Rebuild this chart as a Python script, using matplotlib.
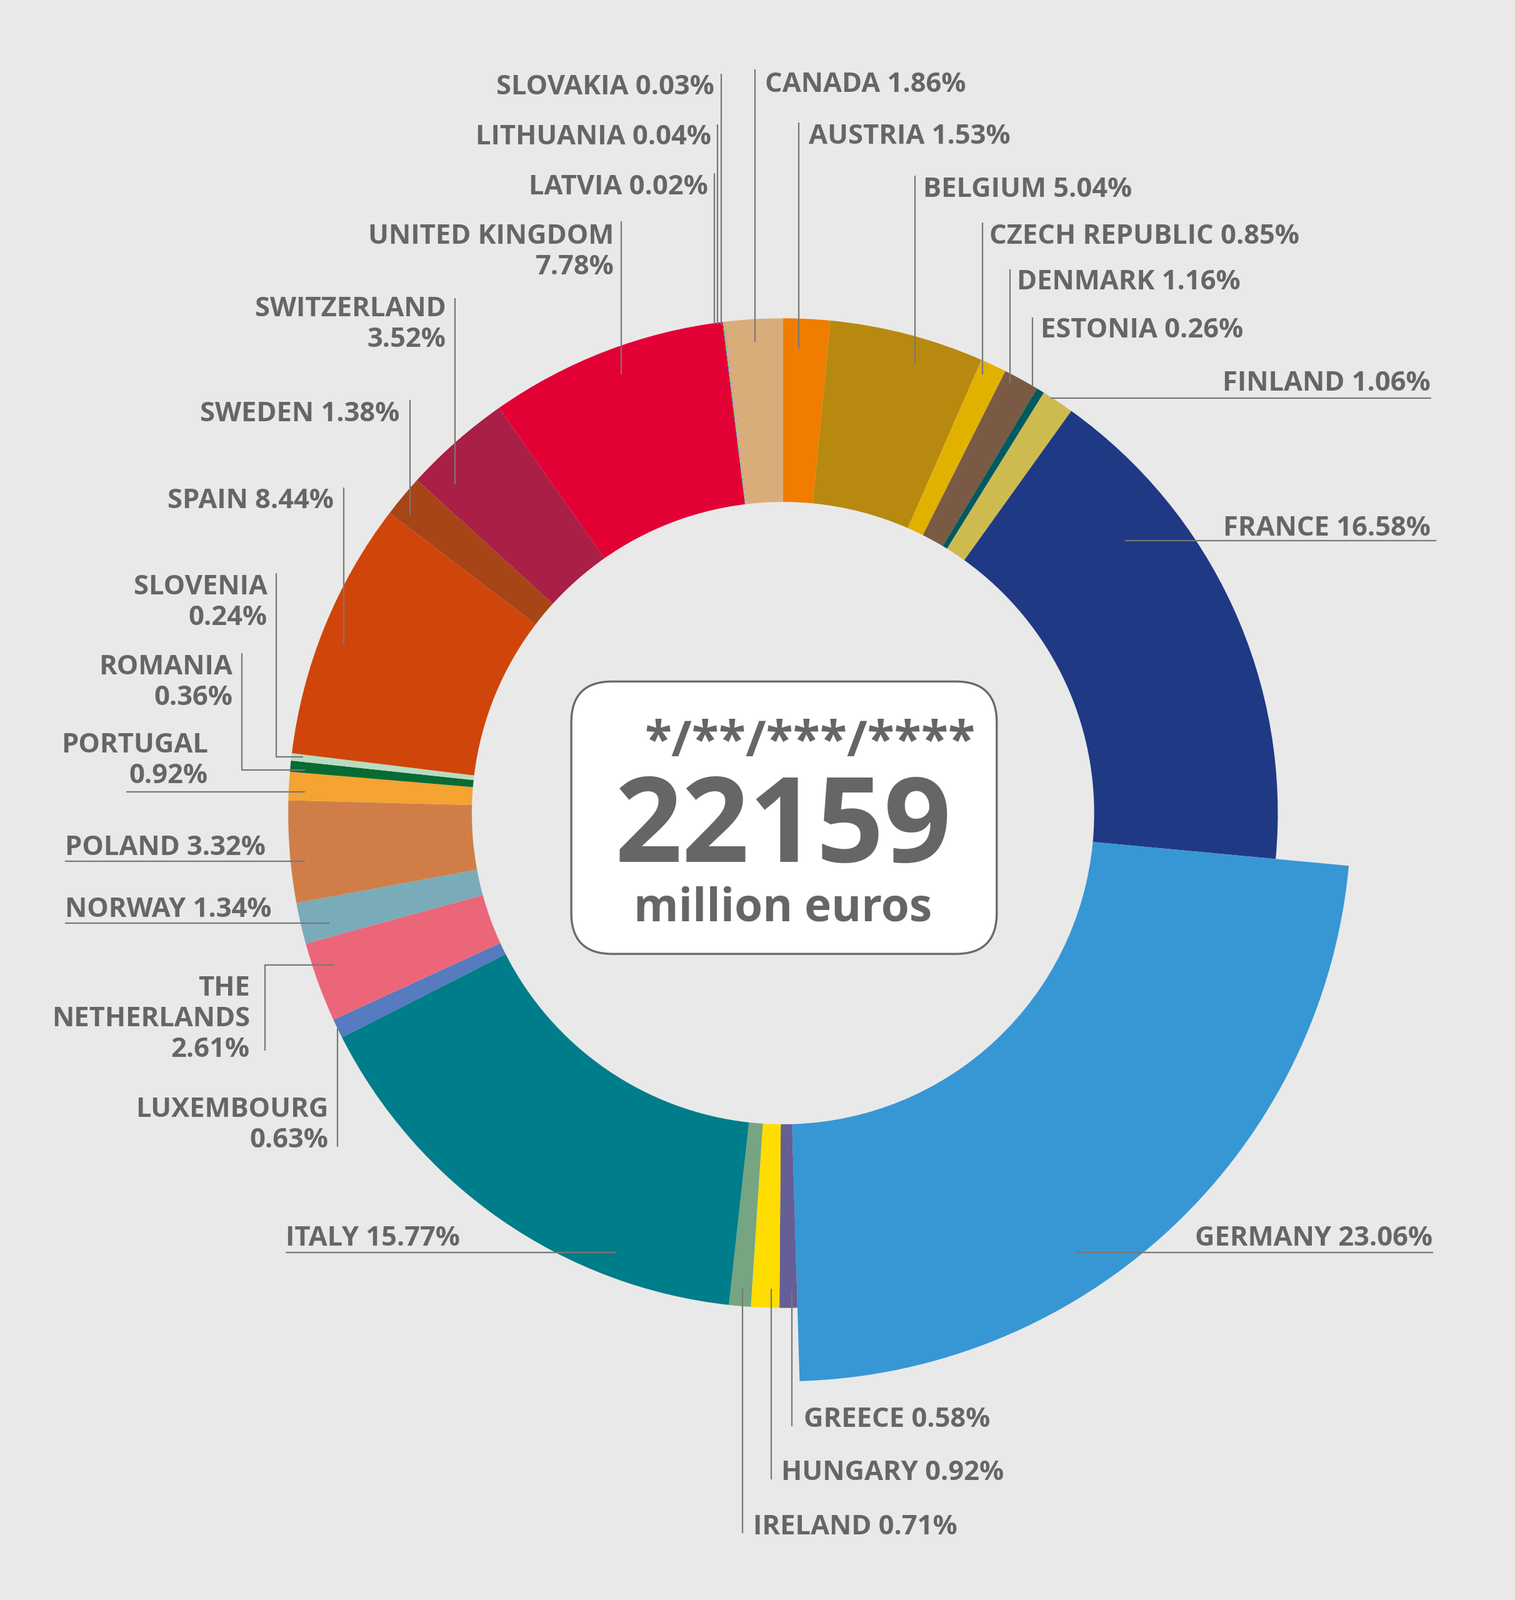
import matplotlib.pyplot as plt
from matplotlib.patches import FancyBboxPatch

# shares in drawing order, clockwise from 12 o'clock
countries = ["AUSTRIA", "BELGIUM", "CZECH REPUBLIC", "DENMARK", "ESTONIA", "FINLAND",
             "FRANCE", "GERMANY", "GREECE", "HUNGARY", "IRELAND", "ITALY", "LUXEMBOURG",
             "THE NETHERLANDS", "NORWAY", "POLAND", "PORTUGAL", "ROMANIA", "SLOVENIA",
             "SPAIN", "SWEDEN", "SWITZERLAND", "UNITED KINGDOM", "LATVIA", "LITHUANIA",
             "SLOVAKIA", "CANADA"]
shares = [1.53, 5.04, 0.85, 1.16, 0.26, 1.06, 16.58, 23.06, 0.58, 0.92, 0.71, 15.77, 0.63,
          2.61, 1.34, 3.32, 0.92, 0.36, 0.24, 8.44, 1.38, 3.52, 7.78, 0.02, 0.04, 0.03, 1.86]
colors = ["#f07d00", "#b8890f", "#e2b100", "#7a5a44", "#005a5f", "#cdbb50",
          "#1f3985", "#3797d4", "#665e96", "#ffdd00", "#76a582", "#007d8a", "#567bbe",
          "#ec667a", "#7aabb8", "#d07e48", "#f5a331", "#086b33", "#b9dcc0",
          "#d0450a", "#a84517", "#a91f46", "#e30034", "#3a7fc0", "#b5c74a",
          "#d486b0", "#d9ad79"]
stars = "*/**/***/****"
total = "22159"
unit = "million euros"

BG = "#e9e9e9"
TXT = "#666666"
LINE = "#787878"
S = 2424 / 1485          # layout below measured on a 1485 px wide sketch

# label layout: x, y of first line centre, alignment, line mode, leader polyline
layout = {
    "SLOVAKIA": (700, 83, "right", 1, [(707, 72), (707, 318)]),
    "LITHUANIA": (697, 132, "right", 1, [(703, 122), (703, 318)]),
    "LATVIA": (694, 181, "right", 1, [(700, 170), (700, 318)]),
    "UNITED KINGDOM": (602, 229, "right", 2, [(609, 217), (609, 367)]),
    "CANADA": (750, 80, "left", 1, [(740, 68), (740, 335)]),
    "AUSTRIA": (793, 131, "left", 1, [(783, 120), (783, 342)]),
    "BELGIUM": (905, 183, "left", 1, [(897, 172), (897, 357)]),
    "CZECH REPUBLIC": (970, 229, "left", 1, [(963, 218), (963, 367)]),
    "DENMARK": (997, 274, "left", 1, [(990, 264), (990, 376)]),
    "ESTONIA": (1020, 321, "left", 1, [(1012, 311), (1012, 378)]),
    "FINLAND": (1402, 373, "right", 1, [(1030, 390), (1403, 390)]),
    "FRANCE": (1402, 515, "right", 1, [(1103, 530), (1408, 530)]),
    "GERMANY": (1404, 1211, "right", 1, [(1055, 1228), (1405, 1228)]),
    "GREECE": (788, 1389, "left", 1, [(776, 1265), (776, 1398)]),
    "HUNGARY": (766, 1441, "left", 1, [(756, 1263), (756, 1450)]),
    "IRELAND": (738, 1494, "left", 1, [(728, 1263), (728, 1503)]),
    "ITALY": (280, 1211, "left", 1, [(280, 1228), (604, 1228)]),
    "LUXEMBOURG": (322, 1085, "right", 2, [(331, 1008), (331, 1124)]),
    "THE NETHERLANDS": (245, 966, "right", 3, [(328, 946), (260, 946), (260, 1030)]),
    "NORWAY": (64, 889, "left", 1, [(64, 905), (323, 905)]),
    "POLAND": (64, 828, "left", 1, [(64, 844), (299, 844)]),
    "PORTUGAL": (204, 728, "right", 2, [(124, 776), (299, 776)]),
    "ROMANIA": (228, 651, "right", 2, [(237, 640), (237, 755), (299, 755)]),
    "SLOVENIA": (262, 573, "right", 2, [(271, 562), (271, 742), (297, 742)]),
    "SPAIN": (327, 488, "right", 1, [(337, 478), (337, 632)]),
    "SWEDEN": (392, 403, "right", 1, [(402, 392), (402, 505)]),
    "SWITZERLAND": (437, 300, "right", 2, [(446, 292), (446, 475)]),
}

fig = plt.figure(figsize=(24.24, 25.6), dpi=100, facecolor=BG)
ax = fig.add_axes([0, 0, 1, 1])
ax.set_facecolor(BG)

cx, cy = 767.5 * S, 797 * S
r_out, r_in, r_big = 485 * S, 305 * S, 557 * S

# y axis points down, so counterclock=True turns clockwise on screen
wedges, _ = ax.pie(shares, colors=colors, startangle=-90, counterclock=True,
                   center=(cx, cy), radius=r_out,
                   wedgeprops=dict(width=r_out - r_in, linewidth=0))
g = wedges[countries.index("GERMANY")]
g.set_radius(r_big)
g.set_width(r_big - r_in)

for name, share in zip(countries, shares):
    x, y, ha, mode, leader = layout[name]
    pct = f"{share:.2f}%"
    if mode == 1:
        lines = [f"{name} {pct}"]
    elif mode == 2:
        lines = [name, pct]
    else:
        lines = name.split(" ") + [pct]
    for i, t in enumerate(lines):
        ax.text(x * S, (y + i * 30) * S + 16, t, ha=ha, va="baseline",
                fontsize=31.3, fontweight="bold", color=TXT, family="Open Sans")
    xs = [p[0] * S for p in leader]
    ys = [p[1] * S for p in leader]
    ax.plot(xs, ys, color=LINE, lw=1.6, solid_capstyle="butt")

# centre box
box = FancyBboxPatch((560 * S, 668 * S), 417 * S, 267 * S,
                     boxstyle=f"round,pad=0,rounding_size={40 * S}",
                     facecolor="white", edgecolor="#6a6a6a", linewidth=2.4, zorder=3)
ax.add_patch(box)
ax.text(956 * S, 741 * S, stars, ha="right", va="baseline", fontsize=57,
        fontweight="bold", color=TXT, family="Open Sans", zorder=4)
ax.text(cx, 845 * S, total, ha="center", va="baseline", fontsize=136,
        fontweight="bold", color=TXT, family="Open Sans", zorder=4)
ax.text(cx, 903 * S, unit, ha="center", va="baseline", fontsize=52.5,
        fontweight="bold", color=TXT, family="Open Sans", zorder=4)

ax.set_xlim(0, 2424)
ax.set_ylim(2560, 0)
ax.set_aspect("equal")
ax.axis("off")

fig.savefig("out.png", dpi=100, facecolor=BG)
